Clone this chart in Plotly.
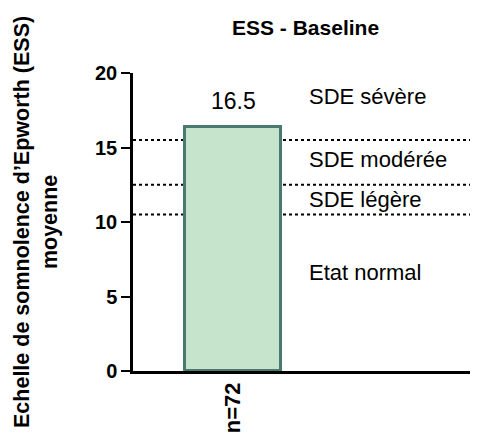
import plotly.graph_objects as go

# Data
categories = ["n=72"]
values = [16.35]
value_labels = ["16.5"]
threshold_levels = [15.5, 12.5, 10.5]
zone_labels = ["SDE sévère", "SDE modérée", "SDE légère", "Etat normal"]
zone_label_y = [18.4, 14.2, 11.5, 6.6]
y_ticks = [0, 5, 10, 15, 20]

FONT = "Liberation Sans, Arial, Helvetica, sans-serif"

fig = go.Figure()
fig.add_trace(go.Bar(
    x=categories, y=values, width=0.955,
    marker=dict(color="#c5e4cb", line=dict(color="#4a7a6f", width=3)),
    hoverinfo="skip",
))

shapes = []
for lvl in threshold_levels:
    shapes.append(dict(type="line", xref="paper", x0=0, x1=1, yref="y", y0=lvl, y1=lvl,
                       line=dict(color="black", width=2, dash="dot"), layer="below"))

annotations = []
for cat, v, lab in zip(categories, values, value_labels):
    annotations.append(dict(x=cat, y=v, xref="x", yref="y", text=lab, showarrow=False,
                            yanchor="bottom", yshift=11, font=dict(family=FONT, size=23, color="black")))
for txt, yy in zip(zone_labels, zone_label_y):
    annotations.append(dict(x=0.737, y=yy, xref="x", yref="y", text=txt, showarrow=False,
                            xanchor="left", yanchor="middle", font=dict(family=FONT, size=22, color="black")))
# title
annotations.append(dict(x=0.5, y=1, xref="paper", yref="paper", text="<b>ESS - Baseline</b>",
                        showarrow=False, yanchor="middle", yshift=46,
                        font=dict(family=FONT, size=21, color="black")))
# y title
annotations.append(dict(x=0, y=0.5, xref="paper", yref="paper",
                        text="<b>Echelle de somnolence d’Epworth (ESS)<br>moyenne</b>",
                        showarrow=False, textangle=-90, xanchor="center", yanchor="middle",
                        xshift=-97, font=dict(family=FONT, size=21.5, color="black")))

# page body has an 8px default margin: compensate so the plot lands where the reference is
fig.update_layout(
    width=470, height=426, autosize=False,
    margin=dict(l=125, r=0, t=65, b=63),
    plot_bgcolor="white", paper_bgcolor="white",
    showlegend=False, shapes=shapes, annotations=annotations,
    bargap=0,
)
fig.update_xaxes(type="category", range=[-1, 2.45], showline=True, linecolor="black", linewidth=2.5,
                 ticks="", tickangle=-90, showgrid=False, zeroline=False, automargin=False,
                 tickfont=dict(family=FONT, size=22, color="black", weight="bold"))
fig.update_yaxes(range=[0, 20], tickvals=y_ticks, showline=True, linecolor="black", linewidth=2.5,
                 ticks="outside", ticklen=9, tickwidth=2, tickcolor="black",
                 showgrid=False, zeroline=False, automargin=False,
                 tickfont=dict(family=FONT, size=20, color="black", weight="bold"))

fig.write_html("out.html")
